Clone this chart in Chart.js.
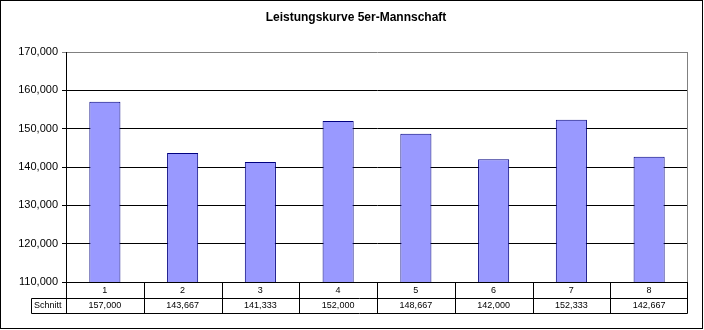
<!DOCTYPE html>
<html>
<head>
<meta charset="utf-8">
<script src="https://cdn.jsdelivr.net/npm/chart.js@4/dist/chart.umd.min.js"></script>
<style>
  html, body { margin: 0; padding: 0; background: #fff; }
  #wrap { width: 704px; height: 330px; }
</style>
</head>
<body>
<div id="wrap"><canvas id="c" width="704" height="330"></canvas></div>
<script>
// Runden der 5er-Mannschaft und Durchschnittswerte
const chartTitle = 'Leistungskurve 5er-Mannschaft';
const rounds = ['1', '2', '3', '4', '5', '6', '7', '8'];
const seriesName = 'Schnitt';
const averages = [157000, 143667, 141333, 152000, 148667, 142000, 152333, 142667];
const yTicks = [110000, 120000, 130000, 140000, 150000, 160000, 170000];

const fmt = v => v.toLocaleString('en-US');

// Titel, Datentabelle unter der Achse und Rahmen
const tablePlugin = {
  id: 'dataTable',
  afterDraw(chart) {
    const ctx = chart.ctx;
    const area = chart.chartArea;
    const x = chart.scales.x;
    const left = area.left, right = area.right;
    const row1Top = 282.5, row2Top = 298.5, rowBottom = 313.5;
    const labelLeft = 31.5;

    ctx.save();
    // Plotbereich rechts
    ctx.strokeStyle = '#808080';
    ctx.lineWidth = 1;
    ctx.beginPath();
    ctx.moveTo(687.5, area.top);
    ctx.lineTo(687.5, area.bottom);
    ctx.stroke();

    // Tabellenlinien
    ctx.strokeStyle = '#000';
    ctx.beginPath();
    ctx.moveTo(left - 0.5, row1Top);
    ctx.lineTo(687.5, row1Top);
    ctx.moveTo(labelLeft, row2Top);
    ctx.lineTo(687.5, row2Top);
    ctx.moveTo(labelLeft, rowBottom);
    ctx.lineTo(687.5, rowBottom);
    ctx.moveTo(labelLeft, row2Top);
    ctx.lineTo(labelLeft, rowBottom);
    ctx.moveTo(66.5, row1Top);
    ctx.lineTo(66.5, rowBottom);
    ctx.moveTo(687.5, row1Top);
    ctx.lineTo(687.5, rowBottom);
    for (let i = 0; i < rounds.length - 1; i++) {
      const b = Math.round((x.getPixelForValue(i) + x.getPixelForValue(i + 1)) / 2) + 0.5;
      ctx.moveTo(b, row1Top);
      ctx.lineTo(b, rowBottom);
    }
    ctx.stroke();

    // Tabellentexte
    ctx.fillStyle = '#000';
    ctx.font = '9px "Liberation Sans", Arial, sans-serif';
    ctx.textAlign = 'center';
    ctx.textBaseline = 'middle';
    rounds.forEach((r, i) => {
      const cx = x.getPixelForValue(i);
      ctx.fillText(r, cx, 290.5);
      ctx.fillText(fmt(averages[i]), cx, 306);
    });
    ctx.textAlign = 'left';
    ctx.fillText(seriesName, 34, 306);

    // Titel
    ctx.font = 'bold 12px "Liberation Sans", Arial, sans-serif';
    ctx.textAlign = 'center';
    ctx.fillText(chartTitle, 356, 18);

    // Außenrahmen
    ctx.strokeStyle = '#000';
    ctx.lineWidth = 1;
    ctx.strokeRect(0.5, 0.5, 702, 328);
    ctx.restore();
  }
};

new Chart(document.getElementById('c'), {
  type: 'bar',
  data: {
    labels: rounds,
    datasets: [{
      label: seriesName,
      data: averages,
      backgroundColor: '#9999FF',
      borderColor: '#000080',
      borderWidth: 1,
      borderSkipped: 'start',
      categoryPercentage: 1.0,
      barPercentage: 0.4
    }]
  },
  options: {
    responsive: false,
    animation: false,
    devicePixelRatio: 1,
    layout: { padding: { left: 0, top: 52, right: 16, bottom: 48 } },
    plugins: {
      legend: { display: false },
      title: { display: false },
      tooltip: { enabled: false }
    },
    scales: {
      x: { display: false, offset: true },
      y: {
        min: yTicks[0],
        max: yTicks[yTicks.length - 1],
        afterBuildTicks(scale) { scale.ticks = yTicks.map(v => ({ value: v })); },
        afterFit(scale) { scale.width = 66; },
        ticks: {
          padding: 4,
          color: '#000',
          font: { family: '"Liberation Sans", Arial, sans-serif', size: 11 },
          callback: v => fmt(v)
        },
        grid: {
          color: c => (c.tick && c.tick.value === yTicks[yTicks.length - 1]) ? '#808080' : '#000',
          lineWidth: 1,
          tickLength: 4,
          drawTicks: true
        },
        border: { display: true, color: '#000', width: 1 }
      }
    }
  },
  plugins: [tablePlugin]
});
</script>
</body>
</html>
